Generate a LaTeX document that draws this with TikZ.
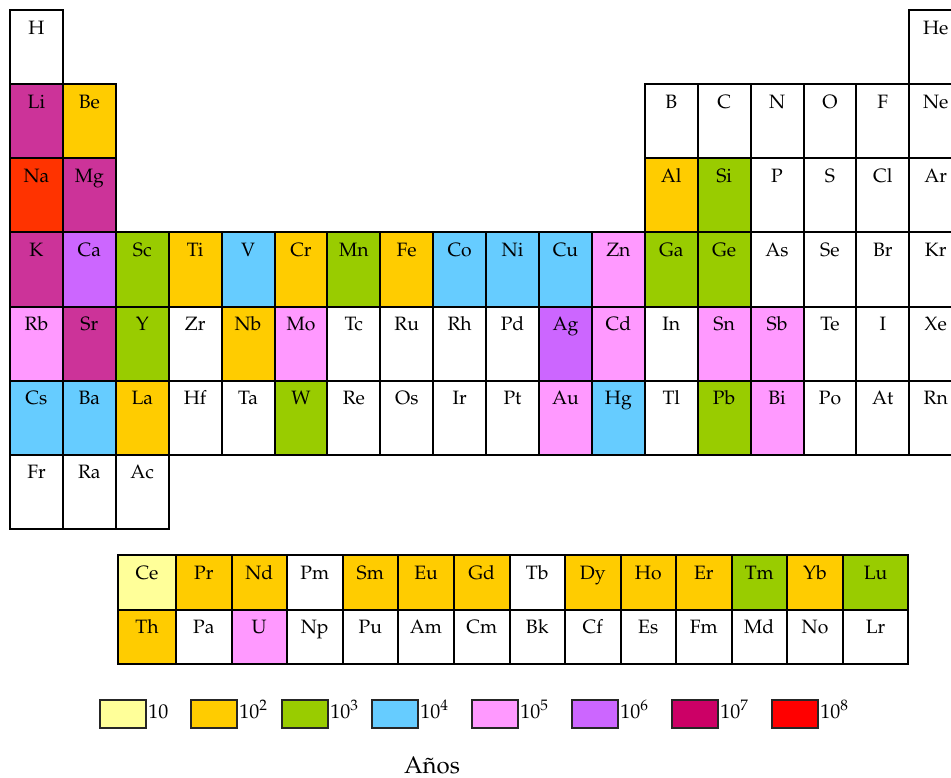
\documentclass[tikz,border=0pt]{standalone}
\usepackage[T1]{fontenc}
\usepackage{mathpazo}
\definecolor{cLY}{HTML}{FFFF99}
\definecolor{cY}{HTML}{FFCC00}
\definecolor{cG}{HTML}{99CC00}
\definecolor{cB}{HTML}{66CCFF}
\definecolor{cK}{HTML}{FF99FF}
\definecolor{cP}{HTML}{CC66FF}
\definecolor{cM}{HTML}{CC3399}
\definecolor{cR}{HTML}{FF3300}
\definecolor{cD}{HTML}{CC0066}
\definecolor{cRR}{HTML}{FF0000}
\definecolor{cW}{HTML}{FFFFFF}
\newcommand\pel[4]{%
  \node[cell, fill=#3, minimum width=39.675pt, minimum height=55.6pt] (#4) at ({10+(#1-0.5)*52.9},{10+(#2-0.5)*74.14}) {};
  \node[sym] (t#4) at ([yshift=-18pt]#4.north) {#4};}
\newcommand\lel[5]{%
  \node[cell, fill=#4, minimum width={(#2-#1)*0.75pt}, minimum height=40.875pt] (#5) at ({(#1+#2)/2},#3) {};
  \node[sym] (t#5) at ([yshift=-18pt]#5.north) {#5};}
\newcommand\leg[4]{%
  \node[legbox, fill=#2] (#3) at (#1+23,714) {};
  \node[legtext] (t#3) at (#1+48,718) {#4};}
\begin{document}
\begin{tikzpicture}[x=0.75pt,y=-0.75pt,
  cell/.style={draw=black, line width=1.5pt, inner sep=0pt, outer sep=0pt, rectangle},
  legbox/.style={draw=black!85, line width=1pt, inner sep=0pt, outer sep=0pt, rectangle, minimum width=34.5pt, minimum height=21pt},
  sym/.style={inner sep=0pt, anchor=base, font=\fontsize{14.5}{16}\selectfont},
  legtext/.style={inner sep=0pt, anchor=base west, font=\fontsize{15}{17}\selectfont}]
\clip (0,0) rectangle (951,778);
\fill[white] (0,0) rectangle (951,778);
% row 1
\pel{1}{1}{cW}{H}
\pel{18}{1}{cW}{He}
% row 2
\pel{1}{2}{cM}{Li}
\pel{2}{2}{cY}{Be}
\pel{13}{2}{cW}{B}
\pel{14}{2}{cW}{C}
\pel{15}{2}{cW}{N}
\pel{16}{2}{cW}{O}
\pel{17}{2}{cW}{F}
\pel{18}{2}{cW}{Ne}
% row 3
\pel{1}{3}{cR}{Na}
\pel{2}{3}{cM}{Mg}
\pel{13}{3}{cY}{Al}
\pel{14}{3}{cG}{Si}
\pel{15}{3}{cW}{P}
\pel{16}{3}{cW}{S}
\pel{17}{3}{cW}{Cl}
\pel{18}{3}{cW}{Ar}
% row 4
\pel{1}{4}{cM}{K}
\pel{2}{4}{cP}{Ca}
\pel{3}{4}{cG}{Sc}
\pel{4}{4}{cY}{Ti}
\pel{5}{4}{cB}{V}
\pel{6}{4}{cY}{Cr}
\pel{7}{4}{cG}{Mn}
\pel{8}{4}{cY}{Fe}
\pel{9}{4}{cB}{Co}
\pel{10}{4}{cB}{Ni}
\pel{11}{4}{cB}{Cu}
\pel{12}{4}{cK}{Zn}
\pel{13}{4}{cG}{Ga}
\pel{14}{4}{cG}{Ge}
\pel{15}{4}{cW}{As}
\pel{16}{4}{cW}{Se}
\pel{17}{4}{cW}{Br}
\pel{18}{4}{cW}{Kr}
% row 5
\pel{1}{5}{cK}{Rb}
\pel{2}{5}{cM}{Sr}
\pel{3}{5}{cG}{Y}
\pel{4}{5}{cW}{Zr}
\pel{5}{5}{cY}{Nb}
\pel{6}{5}{cK}{Mo}
\pel{7}{5}{cW}{Tc}
\pel{8}{5}{cW}{Ru}
\pel{9}{5}{cW}{Rh}
\pel{10}{5}{cW}{Pd}
\pel{11}{5}{cP}{Ag}
\pel{12}{5}{cK}{Cd}
\pel{13}{5}{cW}{In}
\pel{14}{5}{cK}{Sn}
\pel{15}{5}{cK}{Sb}
\pel{16}{5}{cW}{Te}
\pel{17}{5}{cW}{I}
\pel{18}{5}{cW}{Xe}
% row 6
\pel{1}{6}{cB}{Cs}
\pel{2}{6}{cB}{Ba}
\pel{3}{6}{cY}{La}
\pel{4}{6}{cW}{Hf}
\pel{5}{6}{cW}{Ta}
\pel{6}{6}{cG}{W}
\pel{7}{6}{cW}{Re}
\pel{8}{6}{cW}{Os}
\pel{9}{6}{cW}{Ir}
\pel{10}{6}{cW}{Pt}
\pel{11}{6}{cK}{Au}
\pel{12}{6}{cB}{Hg}
\pel{13}{6}{cW}{Tl}
\pel{14}{6}{cG}{Pb}
\pel{15}{6}{cK}{Bi}
\pel{16}{6}{cW}{Po}
\pel{17}{6}{cW}{At}
\pel{18}{6}{cW}{Rn}
% row 7
\pel{1}{7}{cW}{Fr}
\pel{2}{7}{cW}{Ra}
\pel{3}{7}{cW}{Ac}
% lanthanides
\lel{118}{176}{582.25}{cLY}{Ce}
\lel{176}{231.5}{582.25}{cY}{Pr}
\lel{231.5}{287}{582.25}{cY}{Nd}
\lel{287}{342.5}{582.25}{cW}{Pm}
\lel{342.5}{398}{582.25}{cY}{Sm}
\lel{398}{454}{582.25}{cY}{Eu}
\lel{454}{509.5}{582.25}{cY}{Gd}
\lel{509.5}{565}{582.25}{cW}{Tb}
\lel{565}{620.5}{582.25}{cY}{Dy}
\lel{620.5}{676}{582.25}{cY}{Ho}
\lel{676}{731.5}{582.25}{cY}{Er}
\lel{731.5}{787}{582.25}{cG}{Tm}
\lel{787}{843}{582.25}{cY}{Yb}
\lel{843}{908}{582.25}{cG}{Lu}
% actinides
\lel{118}{176}{636.75}{cY}{Th}
\lel{176}{231.5}{636.75}{cW}{Pa}
\lel{231.5}{287}{636.75}{cK}{U}
\lel{287}{342.5}{636.75}{cW}{Np}
\lel{342.5}{398}{636.75}{cW}{Pu}
\lel{398}{454}{636.75}{cW}{Am}
\lel{454}{509.5}{636.75}{cW}{Cm}
\lel{509.5}{565}{636.75}{cW}{Bk}
\lel{565}{620.5}{636.75}{cW}{Cf}
\lel{620.5}{676}{636.75}{cW}{Es}
\lel{676}{731.5}{636.75}{cW}{Fm}
\lel{731.5}{787}{636.75}{cW}{Md}
\lel{787}{843}{636.75}{cW}{No}
\lel{843}{908}{636.75}{cW}{Lr}
% legend
\leg{100}{cLY}{L1}{10}
\leg{191}{cY}{L2}{10\textsuperscript{2}}
\leg{282}{cG}{L3}{10\textsuperscript{3}}
\leg{372}{cB}{L4}{10\textsuperscript{4}}
\leg{472}{cK}{L5}{10\textsuperscript{5}}
\leg{572}{cP}{L6}{10\textsuperscript{6}}
\leg{672}{cD}{L7}{10\textsuperscript{7}}
\leg{772}{cRR}{L8}{10\textsuperscript{8}}
\node[inner sep=0pt, anchor=base, font=\fontsize{18}{20}\selectfont] (anos) at (432,773) {A\~nos};
\end{tikzpicture}
\end{document}
